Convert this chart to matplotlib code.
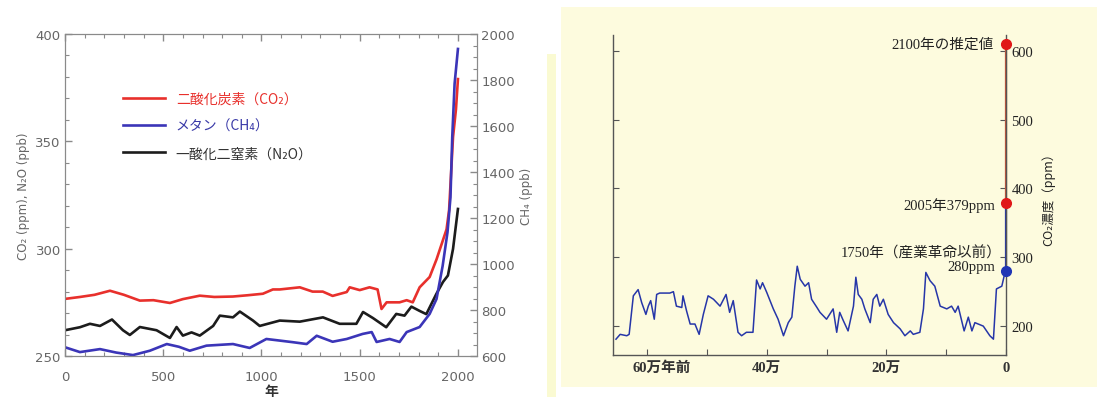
import matplotlib
matplotlib.use("Agg")
import matplotlib.pyplot as plt
from matplotlib.patches import Rectangle
from matplotlib.font_manager import FontProperties
from matplotlib.ticker import MultipleLocator
from matplotlib.transforms import ScaledTranslation

# ---------------- data: left panel (last 2000 years) ----------------
co2_year = [0, 76, 150, 229, 300, 381, 450, 534, 600, 686, 760, 854, 930, 1007, 1058,
            1093, 1195, 1260, 1312, 1362, 1434, 1449, 1500, 1550, 1591, 1611, 1637, 1703,
            1739, 1770, 1805, 1856, 1891, 1942, 1955, 1965, 1975, 1990, 2000]
co2_ppm = [276.6, 277.5, 278.5, 280.4, 278.5, 275.8, 276.0, 274.7, 276.5, 278.1, 277.5,
           277.7, 278.3, 279.0, 281.0, 281.0, 282.0, 280.0, 280.0, 278.0, 279.8, 282.0,
           280.7, 282.0, 281.0, 271.9, 275.0, 275.0, 276.0, 275.0, 282.0, 286.8, 295.0,
           309.0, 318.0, 335.0, 352.0, 365.0, 379.0]

ch4_year = [0, 76, 178, 260, 346, 432, 518, 580, 635, 720, 855, 940, 1025, 1093, 1160,
            1230, 1281, 1362, 1434, 1515, 1561, 1586, 1652, 1703, 1739, 1805, 1856, 1891,
            1922, 1947, 1962, 1971, 1983, 2000]
ch4_ppb = [638, 617, 630, 615, 604, 623, 652, 640, 623, 645, 652, 635, 674, 667, 660,
           652, 688, 662, 674, 696, 704, 661, 674, 661, 704, 726, 783, 848,
           991, 1139, 1290, 1552, 1784, 1935]

n2o_year = [0, 76, 127, 178, 239, 295, 330, 381, 466, 534, 568, 600, 644, 686, 754, 788,
            855, 890, 957, 991, 1093, 1195, 1313, 1398, 1483, 1517, 1567, 1635, 1686,
            1728, 1763, 1805, 1839, 1890, 1924, 1949, 1975, 2000]
n2o_ppb = [262.0, 263.4, 265.0, 264.0, 267.0, 262.0, 259.8, 263.5, 262.0, 258.4, 263.5,
           259.5, 261.0, 259.5, 264.0, 268.8, 268.0, 270.7, 266.5, 264.0, 266.5, 266.0,
           268.0, 265.0, 265.0, 270.5, 267.7, 263.4, 269.6, 268.8, 273.0, 271.0, 269.5,
           278.9, 284.5, 287.5, 299.9, 318.5]

legend_labels = ["二酸化炭素（CO₂）", "メタン（CH₄）", "一酸化二窒素（N₂O）"]

# ---------------- data: right panel (last 650,000 years, unit 万年前) ----------------
ice_age = [65.2, 64.5, 63.4, 63.0, 62.3, 61.5, 60.9, 60.2, 59.8, 59.4, 58.8, 58.4, 57.9,
           56.2, 55.6, 55.1, 54.2, 54.0, 53.4, 52.8, 52.0, 51.3, 50.6, 49.8, 48.9, 47.8,
           46.8, 46.2, 45.6, 44.8, 44.2, 43.4, 42.3, 41.7, 41.1, 40.7, 40.0, 38.9, 38.1,
           37.2, 36.4, 35.8, 35.3, 34.9, 34.4, 33.6, 33.0, 32.5, 31.6, 31.1, 30.0, 28.9,
           28.3, 27.8, 27.2, 26.4, 25.5, 25.1, 24.7, 24.1, 23.6, 22.7, 22.2, 21.6, 21.1,
           20.5, 19.7, 18.8, 17.7, 16.9, 16.0, 15.5, 14.4, 13.8, 13.4, 12.7, 11.9, 11.0,
           9.9, 9.1, 8.5, 8.0, 7.0, 6.3, 5.7, 5.2, 3.8, 2.7, 2.1, 1.6, 0.7, 0.17]
ice_ppm = [181, 188, 186, 188, 244, 253, 234, 217, 229, 237, 210, 246, 248, 248, 250, 229,
           227, 244, 222, 203, 203, 188, 217, 244, 239, 229, 246, 220, 237, 191, 186, 191,
           191, 267, 254, 263, 249, 225, 210, 186, 205, 213, 258, 287, 268, 258, 263, 239,
           227, 220, 210, 225, 191, 220, 208, 193, 229, 271, 246, 239, 225, 205, 239, 246,
           229, 239, 217, 205, 196, 186, 193, 188, 191, 225, 278, 266, 258, 229, 225, 229,
           220, 229, 193, 213, 193, 205, 200, 186, 181, 254, 258, 278]

pre_industrial_ppm = 280   # 1750
y2005_ppm = 379
y2100_ppm = 610
right_xticks = [60, 50, 40, 30, 20, 10, 0]
right_xticklabels = ["60万年前", "", "40万", "", "20万", "", "0"]

# ---------------- figure ----------------
W, H = 1097, 402
fig = plt.figure(figsize=(W / 100, H / 100), dpi=100)
fig.patch.set_facecolor("white")

# beige backgrounds
fig.add_artist(Rectangle((561 / W, (H - 388) / H), (W - 561) / W, (388 - 8) / H,
                         transform=fig.transFigure, facecolor="#fdfbde",
                         edgecolor="none", zorder=0))
fig.add_artist(Rectangle((547 / W, (H - 398) / H), 9 / W, (398 - 55) / H,
                         transform=fig.transFigure, facecolor="#fafad2",
                         edgecolor="none", zorder=0))

RED = "#e8302c"
BLUE = "#3b35b8"
BLACK = "#1c1c1c"
GRAY = "#666666"
SP = "#8a8a8a"

# ---------- left panel ----------
ax1 = fig.add_axes([65 / W, (H - 357) / H, 412 / W, 322 / H])
ax1.plot(co2_year, co2_ppm, color=RED, lw=1.9, zorder=3)
ax1.plot(n2o_year, n2o_ppb, color=BLACK, lw=1.9, zorder=3)
ax1.set_xlim(0, 2097)
ax1.set_ylim(250, 400)
ax1.xaxis.set_major_locator(MultipleLocator(500))
ax1.xaxis.set_minor_locator(MultipleLocator(100))
ax1.yaxis.set_major_locator(MultipleLocator(50))
ax1.yaxis.set_minor_locator(MultipleLocator(10))
ax1.tick_params(which="both", direction="in", top=True, right=False, colors=SP,
                labelcolor=GRAY, labelsize=9.5)
ax1.tick_params(which="major", length=5, width=1)
ax1.tick_params(which="minor", length=3, width=0.8)
ax1.tick_params(axis="x", pad=10)
ax1.tick_params(axis="y", pad=3)
for s in ax1.spines.values():
    s.set_color(SP)
ax1.set_ylabel("CO₂ (ppm), N₂O (ppb)", fontsize=8.5, color=GRAY, labelpad=4)
ax1.set_xlabel("年", fontsize=10, fontweight="bold", color="#333333",
               family=["Noto Sans CJK JP", "DejaVu Sans"], labelpad=1)

ax2 = ax1.twinx()
ax2.plot(ch4_year, ch4_ppb, color=BLUE, lw=1.9)
ax2.set_ylim(600, 2000)
ax2.yaxis.set_major_locator(MultipleLocator(200))
ax2.yaxis.set_minor_locator(MultipleLocator(50))
ax2.tick_params(which="both", direction="in", colors=SP, labelcolor=GRAY, labelsize=9.5,
                pad=3)
ax2.tick_params(which="major", length=5, width=1)
ax2.tick_params(which="minor", length=3, width=0.8)
for s in ax2.spines.values():
    s.set_color(SP)
ax2.set_ylabel("CH₄ (ppb)", fontsize=8.5, color=GRAY, labelpad=4)

h1 = ax1.get_lines()
h2 = ax2.get_lines()
handles = [h1[0], h2[0], h1[1]]
leg = ax2.legend(handles, legend_labels, loc="upper left",
                 bbox_to_anchor=(0.141, 0.82), frameon=False,
                 handlelength=3.0, handletextpad=0.8, labelspacing=0.95,
                 borderpad=0, borderaxespad=0,
                 prop=FontProperties(family=["Noto Sans CJK JP", "DejaVu Sans"], size=10))
for t, c in zip(leg.get_texts(), [RED, "#3a3aa8", "#333333"]):
    t.set_color(c)

# ---------- right panel ----------
ax3 = fig.add_axes([613 / W, (H - 356) / H, 393 / W, 320 / H])
ax3.set_facecolor("none")
ax3.plot(ice_age, ice_ppm, color="#2636a8", lw=1.1)
ax3.set_xlim(65.7, 0)
ax3.set_ylim(158, 623)
ax3.spines["top"].set_visible(False)
for s in ["left", "bottom", "right"]:
    ax3.spines[s].set_color("#555555")
    ax3.spines[s].set_linewidth(1.0)

ax3.set_xticks(right_xticks)
ax3.set_xticklabels(right_xticklabels)
ax3.set_yticks([200, 300, 400, 500, 600])
ax3.tick_params(axis="y", which="both", left=True, right=True, labelleft=False,
                labelright=True, direction="in", length=4, colors="#555555",
                labelcolor="#222222", pad=4)
ax3.tick_params(axis="x", direction="in", length=4, colors="#555555",
                labelcolor="#333333", pad=4)
serif_cjk = ["Liberation Serif", "Noto Sans CJK JP"]
for lab in ax3.get_yticklabels():
    lab.set_family(serif_cjk)
    lab.set_fontsize(10.5)
for lab in ax3.get_xticklabels():
    lab.set_family(serif_cjk)
    lab.set_fontsize(10.5)
    lab.set_fontweight("bold")
first = ax3.get_xticklabels()[0]
first.set_transform(first.get_transform() + ScaledTranslation(0.15, 0, fig.dpi_scale_trans))

ax3.yaxis.set_label_position("right")
ax3.set_ylabel("CO₂濃度（ppm）", fontsize=9, color="#222222",
               family=["Noto Sans CJK JP", "DejaVu Sans"], labelpad=6)

# modern rise and projection
ax3.plot([0, 0], [pre_industrial_ppm, y2005_ppm], color="#2636a8", lw=1.6, clip_on=False)
ax3.plot([0, 0], [y2005_ppm, y2100_ppm], color="#c8563a", lw=1.6, clip_on=False)
ax3.plot([0], [pre_industrial_ppm], "o", color="#1f35b5", ms=7, clip_on=False, zorder=5)
ax3.plot([0, 0], [y2005_ppm, y2100_ppm], "o", color="#e01818", ms=7, ls="none",
         clip_on=False, zorder=5)

fs = dict(family=serif_cjk, fontsize=10.5, color="#222222", ha="right", va="center",
          textcoords="offset points")
ax3.annotate("2100年の推定値", xy=(0, y2100_ppm), xytext=(-9, 0), **fs)
ax3.annotate("2005年379ppm", xy=(0, y2005_ppm), xytext=(-8, -1), **fs)
ax3.annotate("1750年（産業革命以前）", xy=(0, pre_industrial_ppm), xytext=(-3, 13), **fs)
ax3.annotate("280ppm", xy=(0, pre_industrial_ppm), xytext=(-8, 3), **fs)

fig.savefig("out.png", dpi=100, facecolor=fig.get_facecolor())
